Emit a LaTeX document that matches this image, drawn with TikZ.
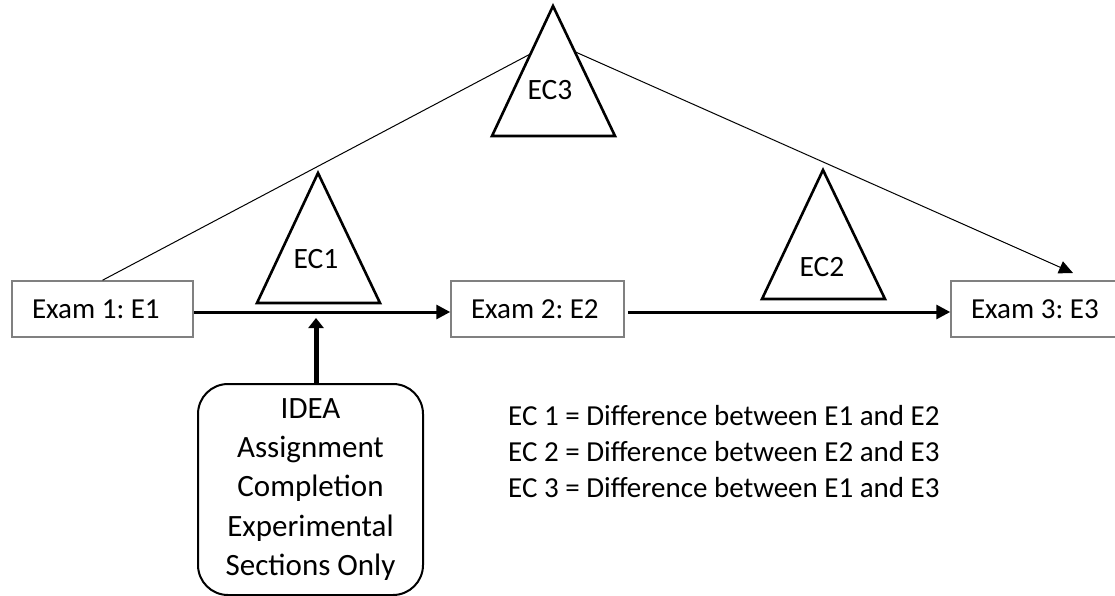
\documentclass[tikz,border=0pt]{standalone}
\usepackage{fontspec}
\setmainfont{Carlito}
\usetikzlibrary{arrows.meta}
\frenchspacing
\begin{document}
\begin{tikzpicture}[x=1pt,y=-1pt,
  exambox/.style={draw=black!50, line width=1.5pt, fill=white, rectangle, minimum height=56pt,
    inner xsep=20pt, font=\fontsize{29}{34}\selectfont\frenchspacing},
  tri/.style={draw=black, line width=2.6pt, fill=white, line join=miter},
  trilabel/.style={font=\fontsize{29.5}{34}\selectfont, inner sep=0pt},
  thickarrow/.style={line width=3pt, -{Triangle[length=14pt,width=14pt]}},
  thinarrow/.style={line width=1pt, -{Triangle[length=14pt,width=13pt]}},
  ideabox/.style={draw=black, line width=2pt, rounded corners=30pt, minimum width=225pt,
    minimum height=211pt, align=center, font=\fontsize{31}{39.4}\selectfont, inner sep=0pt},
  legend/.style={align=left, font=\fontsize{29}{36}\selectfont\frenchspacing, inner sep=0pt}
]
\useasboundingbox (0,0) rectangle (1115,596);

% exam boxes
\node[exambox] (E1) at (102.5,309) {\makebox[141pt][l]{Exam 1: E1}};
\node[exambox] (E2) at (537.5,309) {\makebox[133pt][l]{Exam 2: E2}};
\node[exambox] (E3) at (1036,309) {\makebox[130pt][l]{Exam 3: E3}};

% long line via EC3
\coordinate (apex) at (553,42);
\coordinate (e3tip) at (1073,273);
\draw[line width=1pt] (E1.north) -- (apex);
\draw[thinarrow] (apex) -- (e3tip);

% horizontal arrows
\draw[thickarrow] ([yshift=-3pt]E1.east) -- ([yshift=-3pt]E2.west);
\draw[thickarrow] ([xshift=3pt,yshift=-3pt]E2.east) -- ([yshift=-3pt]E3.west);

% triangles
\draw[tri] (318,173) -- (380,303) -- (257,303) -- cycle;
\node[trilabel] (ec1) at (316,259) {EC1};
\draw[tri] (823,170) -- (885,299) -- (762,299) -- cycle;
\node[trilabel] (ec2) at (822,267) {EC2};
\draw[tri] (553,6) -- (615,136) -- (492,136) -- cycle;
\node[trilabel] (ec3) at (550,90) {EC3};

% IDEA box
\node[ideabox] (idea) at (310.5,489.5) {IDEA\\Assignment\\Completion\\Experimental\\Sections Only};
\coordinate (ideatip) at (316,318);
\draw[line width=5pt, -{Triangle[length=10pt,width=15pt]}] (ideatip |- idea.north) -- (ideatip);

% legend
\node[legend, anchor=west] (leg) at (508,452) {EC 1 = Difference between E1 and E2\\EC 2 = Difference between E2 and E3\\EC 3 = Difference between E1 and E3};
\end{tikzpicture}
\end{document}
